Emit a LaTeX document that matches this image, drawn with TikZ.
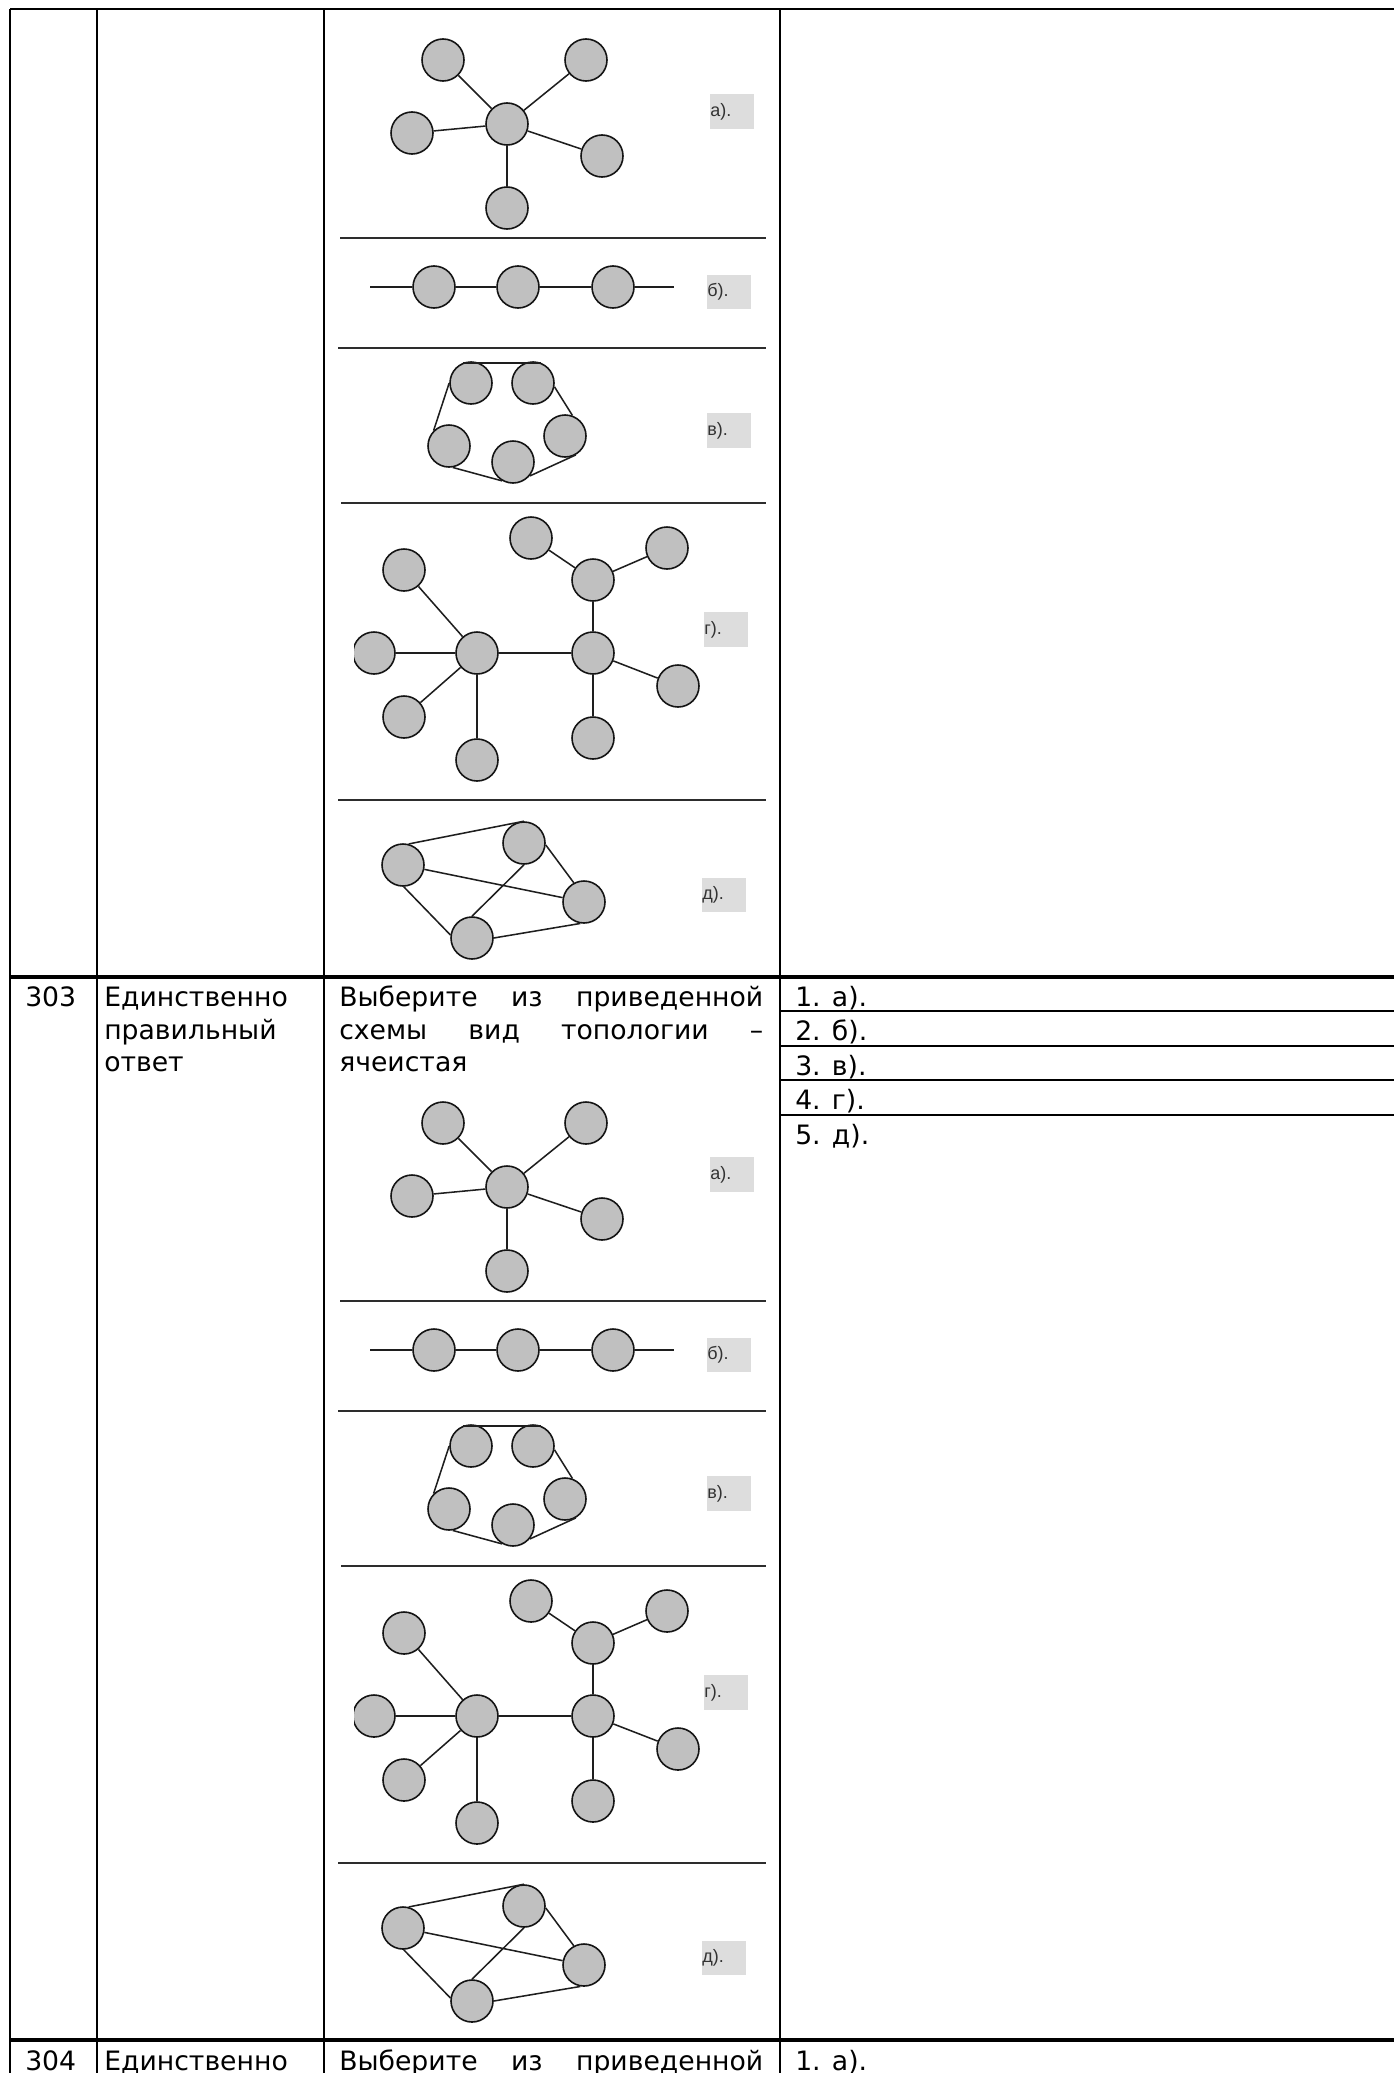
\documentclass[tikz,border=0pt]{standalone}
\usepackage{fontspec}
\setmainfont{DejaVu Sans}
\newfontfamily\figfont{Liberation Sans}
\newcommand{\cellsize}{\fontsize{20}{24}\selectfont}

\begin{document}
\begin{tikzpicture}[x=0.75pt,y=0.75pt,yscale=-1,xscale=1,
  station/.style={circle,draw={rgb, 255:red, 20; green, 20; blue, 20 },fill={rgb, 255:red, 192; green, 192; blue, 192 },line width=1.2,minimum size=31.5pt,inner sep=0pt},
  wire/.style={draw={rgb, 255:red, 30; green, 30; blue, 30 },line width=1.15},
  sepline/.style={draw={rgb, 255:red, 45; green, 45; blue, 45 },line width=1.5},
  rule/.style={line width=1.5},
  thickrule/.style={line width=3},
  labbox/.style={anchor=west,fill={rgb, 255:red, 221; green, 221; blue, 221 },inner sep=0pt,minimum height=26pt,text width=33pt,align=left,text={rgb, 255:red, 50; green, 50; blue, 50 },font=\figfont\fontsize{13.5}{14}\selectfont},
  cell/.style={anchor=base west,inner sep=0pt,font=\cellsize}
]
%uncomment if require: \path (0,2073); %page of 1394 x 2073
\path[use as bounding box,fill=white] (0,0) rectangle (1394,2073);
\clip (0,0) rectangle (1394,2073);

%Straight Lines: table rules
\draw[rule] (10,9) -- (1394,9);
\draw[thickrule] (10,977) -- (1394,977);
\draw[thickrule] (10,2040) -- (1394,2040);
\foreach \cx in {10,97,324,780} \draw[rule] (\cx,9) -- (\cx,2073);
\foreach \ly in {1011,1045.5,1080,1114.5} \draw[rule] (780,\ly) -- (1394,\ly);

%Text: row 303
\node[cell] (num303) at (25,1006.5) {303};
\node[cell] (kind1) at (104,1006.5) {Единственно};
\node[cell] (kind2) at (104,1039) {правильный};
\node[cell] (kind3) at (104,1071.5) {ответ};
\node[cell] (ask1) at (339,1006.5) {\makebox[318pt][l]{Выберите\hfill из\hfill приведенной}};
\node[cell] (ask2) at (339,1039) {\makebox[318pt][l]{схемы\hfill вид\hfill топологии\hfill –}};
\node[cell] (ask3) at (339,1071.5) {ячеистая};
\foreach \t [count=\i] in {а,б,в,г,д}
  \node[cell] (ans\i) at (795,{1006+34.5*(\i-1)}) {\i. \t).};

%Text: row 304
\node[cell] (num304) at (25,2070.5) {304};
\node[cell] (kind4) at (104,2070.5) {Единственно};
\node[cell] (ask4) at (339,2070.5) {\makebox[318pt][l]{Выберите\hfill из\hfill приведенной}};
\node[cell] (ans6) at (795,2070) {1. а).};

%Image: five topologies, once per row
\foreach \yo/\k in {0/u,1063/w}{
\begin{scope}[shift={(0,\yo)}]
%Shape: Circle - star
\node[station] (sc-\k) at (507,124) {};
\node[station] (s1-\k) at (443,60) {};
\node[station] (s2-\k) at (586,60) {};
\node[station] (s3-\k) at (412,133) {};
\node[station] (s4-\k) at (602,156) {};
\node[station] (s5-\k) at (507,208) {};
\foreach \j in {1,...,5} \draw[wire] (sc-\k) -- (s\j-\k);
\node[labbox] (la-\k) at (710,111.5) {а).};
%Straight Lines
\draw[sepline] (340,238) -- (766,238);

%Shape: Circle - bus
\coordinate (bw-\k) at (370,287);
\coordinate (be-\k) at (674,287);
\node[station] (b1-\k) at (434,287) {};
\node[station] (b2-\k) at (518,287) {};
\node[station] (b3-\k) at (613,287) {};
\draw[wire] (bw-\k) -- (b1-\k) -- (b2-\k) -- (b3-\k) -- (be-\k);
\node[labbox] (lb-\k) at (707,292) {б).};
%Straight Lines
\draw[sepline] (338,348) -- (766,348);

%Shape: Circle - ring
\node[station] (r1-\k) at (471,383) {};
\node[station] (r2-\k) at (533,383) {};
\node[station] (r3-\k) at (565,436) {};
\node[station] (r4-\k) at (513,462) {};
\node[station] (r5-\k) at (449,446) {};
\draw[wire] (r1-\k.112) -- (r2-\k.68);
\draw[wire] (r2-\k.-10) -- (r3-\k.70);
\draw[wire] (r3-\k.-60) -- (r4-\k.-40);
\draw[wire] (r4-\k.-120) -- (r5-\k.-80);
\draw[wire] (r5-\k.135) -- (r1-\k.180);
\node[labbox] (lc-\k) at (707,430.5) {в).};
%Straight Lines
\draw[sepline] (341,503) -- (766,503);

%Shape: Circle - tree
\node[station] (t1-\k) at (477,653) {};
\node[station] (t2-\k) at (593,653) {};
\node[station] (t3-\k) at (593,580) {};
\node[station] (t4-\k) at (531,538) {};
\node[station] (t5-\k) at (667,548) {};
\node[station] (t6-\k) at (404,570) {};
\begin{scope}
\clip (354,620) rectangle (400,690);
\node[station] (t7-\k) at (374,653) {};
\end{scope}
\node[station] (t8-\k) at (404,717) {};
\node[station] (t9-\k) at (477,760) {};
\node[station] (t10-\k) at (593,738) {};
\node[station] (t11-\k) at (678,686) {};
\draw[wire] (t1-\k) -- (t2-\k);
\foreach \j in {6,7,8,9} \draw[wire] (t1-\k) -- (t\j-\k);
\foreach \j in {3,10,11} \draw[wire] (t2-\k) -- (t\j-\k);
\foreach \j in {4,5} \draw[wire] (t3-\k) -- (t\j-\k);
\node[labbox] (ld-\k) at (704,629.5) {г).};
%Straight Lines
\draw[sepline] (338,800) -- (766,800);

%Shape: Circle - mesh
\node[station] (m1-\k) at (403,865) {};
\node[station] (m2-\k) at (524,843) {};
\node[station] (m3-\k) at (584,902) {};
\node[station] (m4-\k) at (472,938) {};
\draw[wire] (m1-\k.75) -- (m2-\k.90);
\draw[wire] (m1-\k) -- (m3-\k);
\draw[wire] (m1-\k.-88) -- (m4-\k.172);
\draw[wire] (m2-\k.-5) -- (m3-\k.118);
\draw[wire] (m2-\k.-90) -- (m4-\k.90);
\draw[wire] (m4-\k.0) -- (m3-\k.-100);
\node[labbox] (le-\k) at (702,895) {д).};
\end{scope}
}
\end{tikzpicture}
\end{document}
